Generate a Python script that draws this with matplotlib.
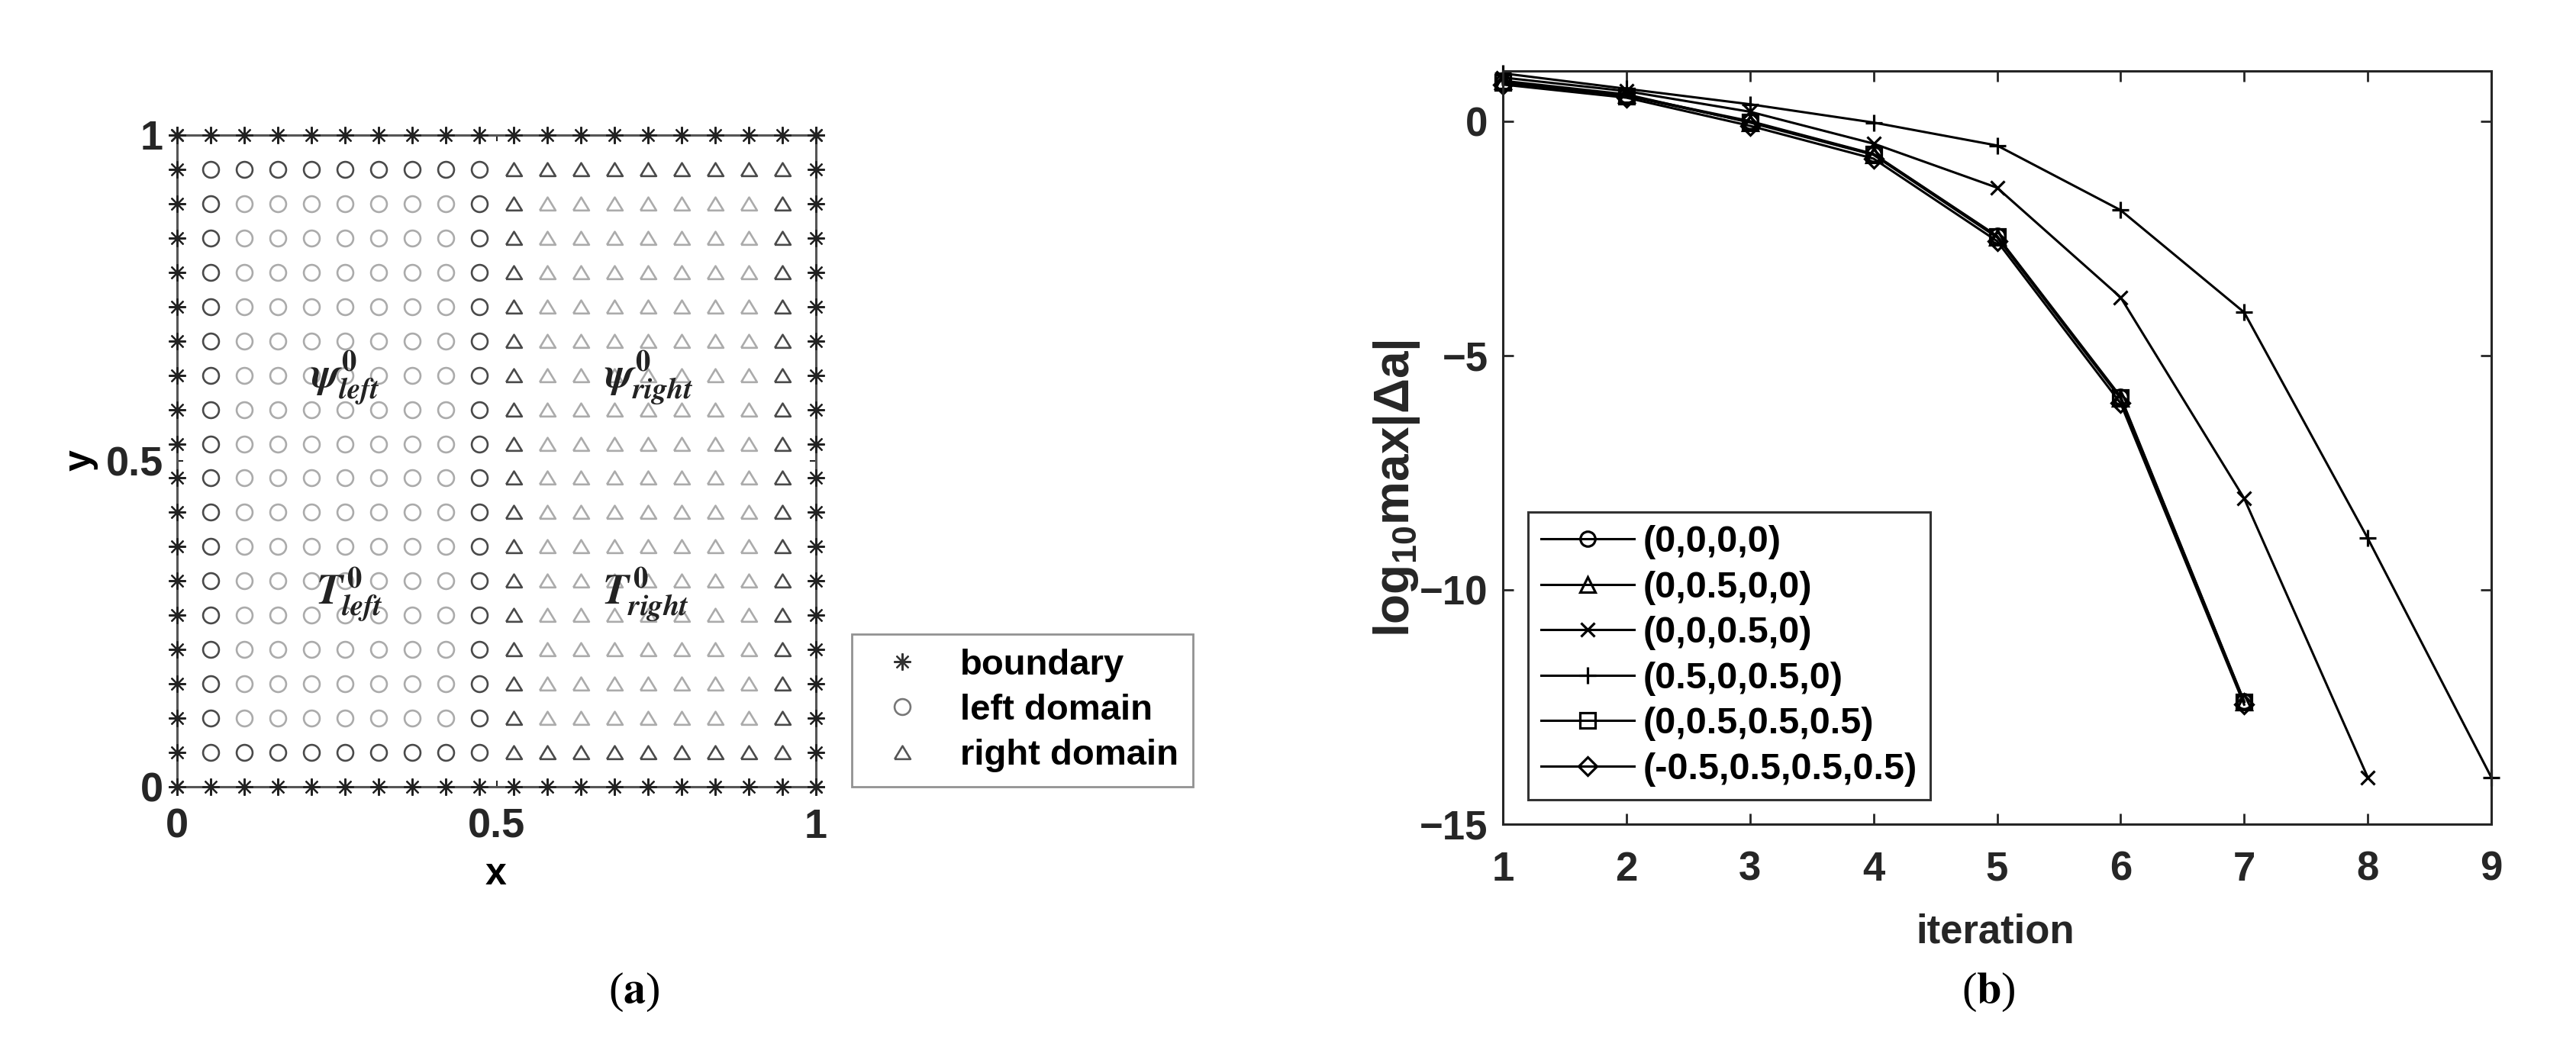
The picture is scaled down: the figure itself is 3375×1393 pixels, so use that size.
import numpy as np
import matplotlib.pyplot as plt
from matplotlib.lines import Line2D

plt.rcParams['font.family'] = ['Liberation Sans', 'DejaVu Sans']
plt.rcParams['font.weight'] = 'bold'
plt.rcParams['mathtext.fontset'] = 'custom'
plt.rcParams['mathtext.rm'] = 'Liberation Sans:bold'
plt.rcParams['mathtext.bf'] = 'Liberation Sans:bold'
plt.rcParams['mathtext.it'] = 'Liberation Sans:bold:italic'

# ---- data ----
# (a) grid of nodes, 20 x 20 over the unit square
n_nodes = 20
grid = np.linspace(0, 1, n_nodes)
region_labels = ['boundary', 'left domain', 'right domain']

# (b) convergence history
iterations = [1, 2, 3, 4, 5, 6, 7, 8, 9]
case_labels = ['(0,0,0,0)', '(0,0.5,0,0)', '(0,0,0.5,0)', '(0.5,0,0.5,0)',
               '(0,0.5,0.5,0.5)', '(-0.5,0.5,0.5,0.5)']
err_0000 = [0.83, 0.55, 0.00, -0.70, -2.45, -5.88, -12.38]
err_0050 = [0.86, 0.57, -0.03, -0.72, -2.48, -5.92, -12.40]
err_0005 = [0.93, 0.64, 0.20, -0.48, -1.42, -3.76, -8.05, -14.00]
err_5050 = [1.02, 0.69, 0.36, -0.03, -0.52, -1.90, -4.08, -8.90, -14.00]
err_0555 = [0.82, 0.54, -0.02, -0.71, -2.46, -5.90, -12.39]
err_m555 = [0.78, 0.50, -0.10, -0.80, -2.56, -6.02, -12.45]
case_values = [err_0000, err_0050, err_0005, err_5050, err_0555, err_m555]
case_markers = ['o', '^', 'x', '+', 's', 'D']
case_msizes = [14, 14, 13, 16, 14, 12]

W, H = 3375, 1393
fig = plt.figure(figsize=(W / 100, H / 100), dpi=100)

# ================= panel (a) =================
ax1 = fig.add_axes([232 / W, 1 - 1031 / H, 837 / W, 854 / H])
ax1.set_xlim(0, 1)
ax1.set_ylim(0, 1)

light = '#ababab'
dark = '#4a4a4a'
tri = [(-1, -0.8), (1, -0.8), (0, 0.85), (-1, -0.8)]
star = (8, 2, 0)

idx = np.arange(1, n_nodes - 1)
half = (n_nodes - 2) // 2
left_i = idx[:half]
right_i = idx[half:]
for cols, mk in [(left_i, 'o'), (right_i, tri)]:
    for j in idx:
        for i in cols:
            edge = (i == cols[0]) or (i == cols[-1]) or (j == idx[0]) or (j == idx[-1])
            ax1.plot(grid[i], grid[j], linestyle='none', marker=mk, ms=15,
                     mfc='none', mec=dark if edge else light, mew=1.9, zorder=2)

bx = np.concatenate([grid, grid, np.zeros(n_nodes), np.ones(n_nodes)])
by = np.concatenate([np.zeros(n_nodes), np.ones(n_nodes), grid, grid])
ax1.plot(bx, by, linestyle='none', marker=star, ms=16, mec='#222222', mew=1.6,
         clip_on=False, zorder=4)

ax1.set_xticks([0, 0.5, 1])
ax1.set_xticklabels(['0', '0.5', '1'])
ax1.set_yticks([0, 0.5, 1])
ax1.set_yticklabels(['0', '0.5', '1'])
ax1.tick_params(direction='in', length=6, width=1.5, labelsize=39,
                colors='#262626', top=True, right=True)
ax1.tick_params(axis='x', pad=20)
ax1.tick_params(axis='y', pad=13)
for s in ax1.spines.values():
    s.set_linewidth(2.2)
    s.set_color('#555555')

txt_kw = dict(transform=ax1.transAxes, ha='center', va='center', fontsize=40,
              math_fontfamily='stix', color='#222222', weight='normal')
ax1.text(0.263, 0.628, r'$\psi^{\mathrm{0}}_{left}$', **txt_kw)
ax1.text(0.738, 0.628, r'$\psi^{\mathrm{0}}_{right}$', **txt_kw)
ax1.text(0.270, 0.295, r'$T^{\mathrm{0}}_{left}$', **txt_kw)
ax1.text(0.733, 0.295, r'$T^{\mathrm{0}}_{right}$', **txt_kw)

fig.text(650 / W, 1 - 1146 / H, 'x', ha='center', va='center', fontsize=36)
fig.text(106 / W, 1 - 603 / H, 'y', ha='center', va='center', fontsize=36,
         rotation=90)

h_a = [Line2D([], [], linestyle='none', marker=star, ms=16, mec='#333333', mew=1.6),
       Line2D([], [], linestyle='none', marker='o', ms=15, mfc='none', mec='#777777', mew=1.9),
       Line2D([], [], linestyle='none', marker=tri, ms=15, mfc='none', mec='#555555', mew=1.9)]
leg_a = fig.legend(h_a, region_labels, loc='lower left',
                   bbox_to_anchor=(1116 / W, 1 - 1031 / H), borderaxespad=0,
                   fontsize=34, frameon=True, fancybox=False, edgecolor='#777777',
                   handlelength=2.0, handletextpad=0.6, labelspacing=0.32,
                   borderpad=0.4)
leg_a.get_frame().set_linewidth(2.0)

fig.text(831 / W, 1 - 1300 / H, r'($\mathbf{a}$)', ha='center', va='center',
         fontsize=42, family='Liberation Serif', weight='normal',
         math_fontfamily='stix')

# ================= panel (b) =================
ax2 = fig.add_axes([1969 / W, 1 - 1080 / H, 1295 / W, 987 / H])
for vals, lbl, mk, msz in zip(case_values, case_labels, case_markers, case_msizes):
    ax2.plot(iterations[:len(vals)], vals, color='black', lw=2.2, marker=mk,
             ms=msz, mfc='none', mec='black', mew=2.3, clip_on=False, label=lbl)

ax2.set_xlim(1, 9)
ax2.set_ylim(-15, 1.07)
ax2.set_xticks(iterations)
ax2.set_yticks([-15, -10, -5, 0])
ax2.tick_params(direction='in', length=10, width=2, labelsize=38,
                colors='#262626', top=True, right=True)
ax2.tick_params(axis='x', pad=25)
ax2.tick_params(axis='y', pad=14)
for s in ax2.spines.values():
    s.set_linewidth(2.2)
    s.set_color('#262626')

leg_b = ax2.legend(loc='lower left', bbox_to_anchor=(2002 / W, 1 - 1048 / H),
                   bbox_transform=fig.transFigure, borderaxespad=0,
                   fontsize=35, frameon=True, fancybox=False, edgecolor='black',
                   handlelength=2.5, handletextpad=0.25, labelspacing=0.3,
                   borderpad=0.35)
leg_b.get_frame().set_linewidth(2.2)

fig.text(1830 / W, 1 - 640 / H, r'log$_{\mathbf{10}}$max|Δa|', ha='center',
         va='center', fontsize=46, rotation=90, color='#262626')
fig.text(2614 / W, 1 - 1221 / H, 'iteration', ha='center', va='center',
         fontsize=38, color='#262626')

fig.text(2605 / W, 1 - 1300 / H, r'($\mathbf{b}$)', ha='center', va='center',
         fontsize=42, family='Liberation Serif', weight='normal',
         math_fontfamily='stix')

fig.savefig('out.png', dpi=100)
